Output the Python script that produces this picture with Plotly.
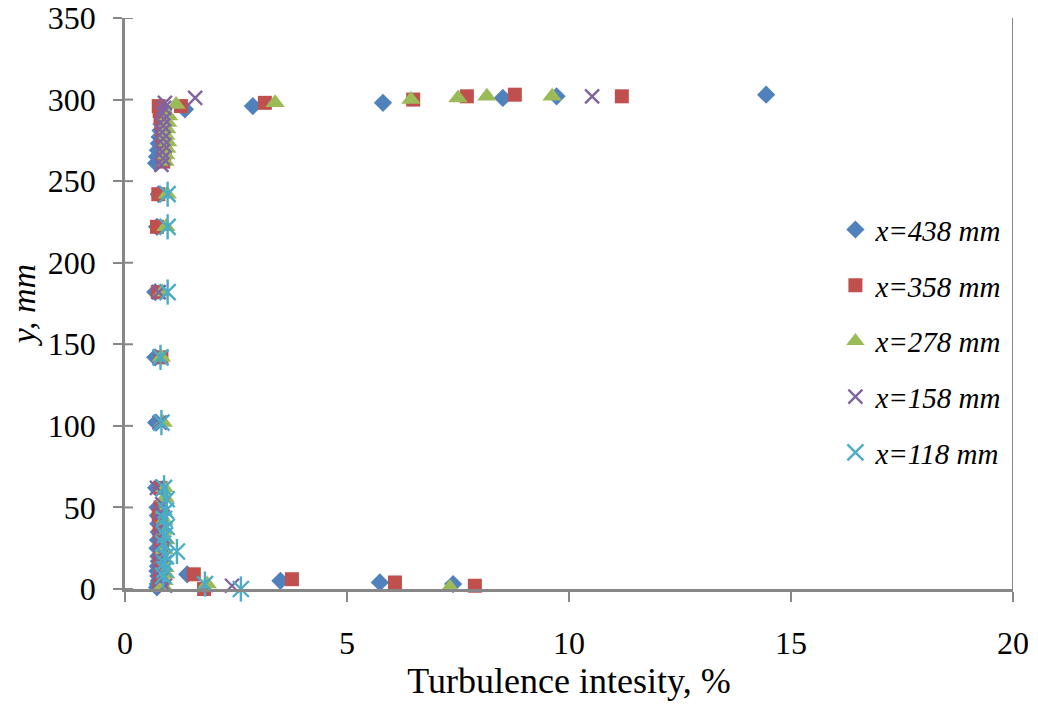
import plotly.graph_objects as go

# ---------------- data ----------------
names = ["x=438 mm", "x=358 mm", "x=278 mm", "x=158 mm", "x=118 mm"]

ti_438 = [0.72, 0.74, 0.76, 0.75, 0.73, 0.74, 0.76, 0.75, 0.73, 0.74, 0.76, 0.75, 0.74, 0.73,
          0.70, 0.70, 0.68, 0.68, 0.72, 0.76,
          0.70, 0.72, 0.74, 0.76, 0.78, 0.80, 0.82, 0.84, 0.86,
          1.35, 2.88, 5.81, 8.51, 9.72, 14.44,
          1.40, 3.50, 5.74, 7.39, 9.64]
y_438 = [1, 3, 5, 8, 11, 14, 17, 20, 25, 30, 35, 40, 45, 50,
         62, 102, 142, 182, 222, 242,
         261, 265, 269, 273, 277, 281, 285, 289, 293,
         294, 296, 298, 301, 302, 303,
         9, 5, 4, 3, -1]

ti_358 = [0.78, 0.82, 0.80, 0.84, 0.78, 0.82, 0.80, 0.84, 0.78, 0.82, 0.76, 0.80,
          0.80, 0.82, 0.74, 0.72, 0.75,
          0.86, 0.88, 0.90, 0.86, 0.84, 0.88, 0.82, 0.80, 0.78, 0.76,
          1.26, 3.15, 6.49, 7.70, 8.78, 11.19,
          1.55, 1.78, 3.76, 6.08, 7.88]
y_358 = [5, 8, 11, 14, 17, 20, 25, 30, 35, 40, 45, 50,
         62, 142, 182, 222, 242,
         262, 266, 270, 274, 278, 282, 286, 290, 293, 296,
         296, 298, 300, 302, 303, 302,
         9, 0, 6, 4, 2]

ti_278 = [0.85, 0.88, 0.92, 0.90, 0.86, 0.88, 0.92, 0.90, 0.88, 0.86, 0.90,
          0.88, 0.86, 0.82, 0.84, 0.92, 0.95,
          0.90, 0.92, 0.94, 0.96, 0.92, 0.94, 0.96, 0.98,
          1.15, 3.38, 6.44, 7.50, 8.15, 9.62,
          1.85, 7.32, 14.44]
y_278 = [2, 5, 9, 13, 18, 24, 30, 36, 42, 48, 56,
         62, 102, 142, 182, 222, 242,
         262, 266, 270, 274, 278, 282, 286, 290,
         297, 298, 300, 301, 302, 302,
         3, 1, -1]

ti_158 = [0.90, 0.82, 0.80, 0.84, 0.78, 0.82, 0.80, 0.84, 0.78, 0.82, 0.80, 0.84,
          0.72, 0.78, 0.80, 0.76,
          0.82, 0.86, 0.84, 0.88, 0.86, 0.84, 0.86, 0.88, 0.84, 0.88, 0.90,
          1.58, 10.52,
          2.41, 13.78]
y_158 = [2, 6, 10, 14, 18, 22, 27, 32, 37, 42, 47, 52,
         62, 102, 142, 182,
         260, 264, 268, 272, 276, 280, 284, 288, 292, 295, 298,
         301, 302,
         2, -1]

ti_118 = [0.86, 0.90, 0.88, 0.92, 0.86, 0.90, 0.94, 0.88, 0.92, 0.94,
          0.88, 0.82, 0.80, 0.96, 0.96, 0.96,
          1.17, 1.80, 2.61]
y_118 = [8, 12, 16, 20, 28, 33, 38, 43, 48, 55,
         62, 102, 142, 182, 222, 242,
         23, 3, 0]

x_ticks = [0, 5, 10, 15, 20]
y_ticks = [0, 50, 100, 150, 200, 250, 300, 350]

# ---------------- figure ----------------
colors = ["#4F81BD", "#C0504D", "#9BBB59", "#8064A2", "#4BACC6"]
series = [(ti_438, y_438), (ti_358, y_358), (ti_278, y_278), (ti_158, y_158), (ti_118, y_118)]
symbols = ["diamond", "square", "triangle-up", "x-thin-open", "x-thin-open"]
sizes = [14, 14, 17, 14, 16]

fig = go.Figure()
for i, ((xs, ys), nm) in enumerate(zip(series, names)):
    mk = dict(symbol=symbols[i], size=sizes[i], color=colors[i])
    if "open" in symbols[i]:
        mk["line"] = dict(color=colors[i], width=2.4)
    else:
        mk["line"] = dict(width=0)
    fig.add_trace(go.Scatter(x=xs, y=ys, mode="markers", name=nm, marker=mk,
                             legendgroup=nm, cliponaxis=False))

# vertical stroke of the 6-armed star marker for x=118 mm
fig.add_trace(go.Scatter(x=ti_118, y=y_118, mode="markers", showlegend=False,
                         legendgroup=names[4], cliponaxis=False,
                         marker=dict(symbol="line-ns-open", size=18, color=colors[4],
                                     line=dict(color=colors[4], width=2.4))))

axis_gray = "#878787"
fig.update_layout(
    width=1038, height=707,
    margin=dict(l=125, r=25, t=18, b=118, autoexpand=False),
    paper_bgcolor="white", plot_bgcolor="white",
    font=dict(family="Liberation Serif, Times New Roman, serif", color="black"),
    xaxis=dict(range=[0, 20], tickvals=x_ticks, showgrid=False, zeroline=False,
               automargin=False, ticklabeloverflow="allow",
               showline=True, linecolor=axis_gray, linewidth=2.5,
               ticks="outside", ticklen=10, tickwidth=2, tickcolor=axis_gray,
               tickfont=dict(size=32), ticklabelstandoff=14,
               title=dict(text="Turbulence intesity, %", font=dict(size=36), standoff=1)),
    yaxis=dict(range=[0, 350], tickvals=y_ticks, showgrid=False, zeroline=False,
               automargin=False, ticklabeloverflow="allow",
               showline=True, linecolor=axis_gray, linewidth=2.5,
               ticks="outside", ticklen=9, tickwidth=2, tickcolor=axis_gray,
               tickfont=dict(size=32), ticklabelstandoff=11,
               title=dict(text="<i>y, mm</i>", font=dict(size=34), standoff=2)),
    legend=dict(x=0.80, y=0.674, xanchor="left", yanchor="top",
                bgcolor="rgba(0,0,0,0)", traceorder="grouped", tracegroupgap=15,
                font=dict(size=29, family="Liberation Serif", style="italic"),
                itemsizing="trace"),
    showlegend=True,
)

# right frame line and the inner half of the crossing y ticks
fig.add_shape(type="line", xref="x", yref="paper", x0=20, x1=20, y0=0, y1=1,
              line=dict(color=axis_gray, width=2))
for yt in y_ticks:
    fig.add_shape(type="line", xref="paper", yref="y", x0=0, x1=0.009, y0=yt, y1=yt,
                  line=dict(color=axis_gray, width=2))

# remove the browser's default 8px body margin so the figure fills the window
fig.write_html("out.html", config={"displayModeBar": False},
               post_script="document.body.style.margin='0';document.body.style.overflow='hidden';")
